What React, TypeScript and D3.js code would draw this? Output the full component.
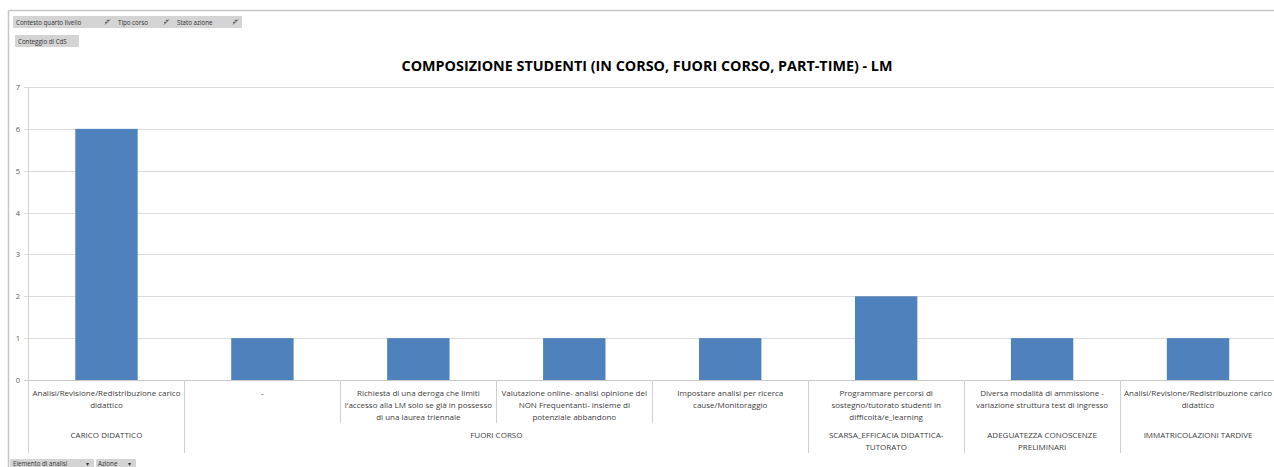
import React from "react";
import * as d3 from "d3";

const W = 1274;
const H = 467;

const categories: string[] = [
  "Analisi/Revisione/Redistribuzione carico\ndidattico",
  "-",
  "Richiesta di una deroga che limiti\nl'accesso alla LM solo se già in possesso\ndi una laurea triennale",
  "Valutazione online- analisi opinione dei\nNON Frequentanti- insieme di\npotenziale abbandono",
  "Impostare analisi per ricerca\ncause/Monitoraggio",
  "Programmare percorsi di\nsostegno/tutorato studenti in\ndifficoltà/e_learning",
  "Diversa modalità di ammissione -\nvariazione struttura test di ingresso",
  "Analisi/Revisione/Redistribuzione carico\ndidattico",
];

const values: number[] = [6, 1, 1, 1, 1, 2, 1, 1];

const groupLabels: string[] = [
  "CARICO DIDATTICO",
  "FUORI CORSO",
  "SCARSA_EFFICACIA DIDATTICA-\nTUTORATO",
  "ADEGUATEZZA CONOSCENZE\nPRELIMINARI",
  "IMMATRICOLAZIONI TARDIVE",
];
const groupStarts: number[] = [0, 1, 5, 6, 7];
const groupEnds: number[] = [1, 5, 6, 7, 8];

const yTicks: number[] = [0, 1, 2, 3, 4, 5, 6, 7];

const title = "COMPOSIZIONE STUDENTI (IN CORSO, FUORI CORSO, PART-TIME) - LM";
const topFilters: string[] = ["Contesto quarto livello", "Tipo corso", "Stato azione"];
const valueButton = "Conteggio di CdS";
const axisButtons: string[] = ["Elemento di analisi", "Azione"];

const FONT = "'Open Sans', 'Liberation Sans', sans-serif";

function FilterIcon({ x, y }: { x: number; y: number }) {
  return (
    <g transform={`translate(${x},${y})`} stroke="#555" strokeWidth={0.8} fill="none">
      <line x1={0} y1={6} x2={5} y2={1} />
      <circle cx={1} cy={4} r={0.6} fill="#555" />
      <circle cx={3} cy={2} r={0.6} fill="#555" />
    </g>
  );
}

export default function App() {
  const plotLeft = 28.5;
  const plotRight = 1276;
  const plotTop = 87;
  const plotBottom = 380;

  const x = d3
    .scaleBand<number>()
    .domain(values.map((_, i) => i))
    .range([plotLeft, plotRight])
    .paddingInner(0.6)
    .paddingOuter(0.3);
  const step = x.step();
  const boundary = (i: number) => plotLeft + step * i;

  const y = d3.scaleLinear().domain([0, 7]).range([plotBottom, plotTop]);

  const lvl1Bottom = 423;
  const lvl2Bottom = 453;

  return (
    <svg
      width={W}
      height={H}
      style={{ position: "absolute", left: 0, top: 0, background: "#fff" }}
      fontFamily={FONT}
    >
      <rect x={0} y={0} width={W} height={H} fill="#fff" />
      {/* frame */}
      <line x1={8.5} y1={10.5} x2={W} y2={10.5} stroke="#c6c6c6" strokeWidth={1.5} />
      <line x1={8.5} y1={10.5} x2={8.5} y2={H} stroke="#c6c6c6" strokeWidth={1.5} />

      {/* top filter buttons */}
      <rect x={13} y={16} width={229} height={12} fill="#d4d4d4" rx={1} />
      {topFilters.map((t, i) => {
        const xs = [16, 118, 177];
        const ix = [105, 164, 233];
        return (
          <g key={t}>
            <text x={xs[i]} y={25} fontSize={6.2} fill="#333">
              {t}
            </text>
            <FilterIcon x={ix[i]} y={18.5} />
          </g>
        );
      })}
      <rect x={15} y={35} width={64} height={12} fill="#d4d4d4" rx={1} />
      <text x={18} y={44} fontSize={6.2} fill="#333">
        {valueButton}
      </text>

      {/* title */}
      <text
        x={647}
        y={71}
        textAnchor="middle"
        fontSize={13.5}
        fontWeight="bold"
        fill="#000"
        textLength={491}
        lengthAdjust="spacingAndGlyphs"
      >
        {title}
      </text>

      {/* gridlines */}
      {yTicks.map((t) => (
        <g key={t}>
          <line
            x1={24}
            x2={W}
            y1={Math.round(y(t)) + 0.5}
            y2={Math.round(y(t)) + 0.5}
            stroke={t === 0 ? "#c8c8c8" : "#dcdcdc"}
            strokeWidth={1}
          />
          <text x={20} y={y(t) + 3} textAnchor="end" fontSize={7.5} fill="#595959">
            {t}
          </text>
        </g>
      ))}
      {/* y axis line */}
      <line x1={plotLeft} x2={plotLeft} y1={plotTop} y2={lvl2Bottom} stroke="#d0d0d0" strokeWidth={1} />

      {/* bars */}
      {values.map((v, i) => (
        <rect
          key={i}
          x={x(i)!}
          y={y(v)}
          width={x.bandwidth()}
          height={y(0) - y(v)}
          fill="#4f81bd"
        />
      ))}

      {/* level-1 separators */}
      {values.map((_, i) => {
        if (i === 0) return null;
        const isGroup = groupStarts.includes(i);
        return (
          <line
            key={i}
            x1={Math.round(boundary(i)) + 0.5}
            x2={Math.round(boundary(i)) + 0.5}
            y1={plotBottom}
            y2={isGroup ? lvl2Bottom : lvl1Bottom}
            stroke="#d0d0d0"
            strokeWidth={1}
          />
        );
      })}

      {/* level-1 labels */}
      {categories.map((c, i) => {
        const cx = boundary(i) + step / 2;
        return (
          <text key={i} textAnchor="middle" fontSize={8} fill="#404040">
            {c.split("\n").map((ln, j) => (
              <tspan key={j} x={cx} y={396 + j * 12}>
                {ln}
              </tspan>
            ))}
          </text>
        );
      })}

      {/* level-2 labels */}
      {groupLabels.map((g, k) => {
        const cx = (boundary(groupStarts[k]) + boundary(groupEnds[k])) / 2;
        return (
          <text key={k} textAnchor="middle" fontSize={8} fill="#404040">
            {g.split("\n").map((ln, j) => (
              <tspan key={j} x={cx} y={438 + j * 12}>
                {ln}
              </tspan>
            ))}
          </text>
        );
      })}

      {/* bottom axis buttons */}
      <rect x={10} y={459} width={84} height={10} fill="#d4d4d4" rx={1} />
      <text x={13} y={466} fontSize={6.2} fill="#333">
        {axisButtons[0]}
      </text>
      <text x={86} y={466} fontSize={6.2} fill="#333">▾</text>
      <rect x={96} y={459} width={40} height={10} fill="#d4d4d4" rx={1} />
      <text x={98} y={466} fontSize={6.2} fill="#333">
        {axisButtons[1]}
      </text>
      <text x={128} y={466} fontSize={6.2} fill="#333">▾</text>
    </svg>
  );
}
